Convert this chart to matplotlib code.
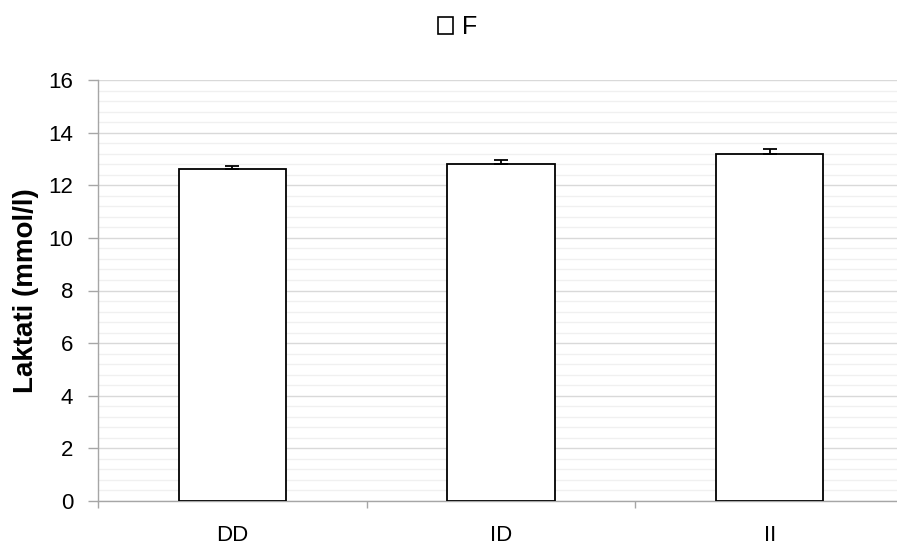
import matplotlib.pyplot as plt
from matplotlib.patches import Patch
from matplotlib.ticker import MultipleLocator, FixedLocator, NullFormatter

plt.rcParams['font.family'] = ['Liberation Sans', 'DejaVu Sans']

categories = ["DD", "ID", "II"]
values = [12.6, 12.8, 13.2]
errors = [0.15, 0.15, 0.17]
series_name = "F"

fig = plt.figure(figsize=(8.97, 5.45), dpi=100)
ax = fig.add_axes([98 / 897, 44 / 545, 806 / 897, 421 / 545])

x = list(range(len(categories)))
ax.bar(x, values, width=0.4, color="white", edgecolor="black", linewidth=1.3, zorder=3)
ax.errorbar(x, values, yerr=[[0] * len(errors), errors], fmt="none", ecolor="black",
            elinewidth=1.3, capsize=5, capthick=1.3, zorder=4)

ax.set_xlim(-0.5, len(categories) - 0.5)
ax.set_ylim(0, 16)
ax.yaxis.set_major_locator(MultipleLocator(2))
ax.yaxis.set_minor_locator(MultipleLocator(0.4))
ax.grid(which="major", axis="y", color="#d9d9d9", linewidth=1.0, zorder=0)
ax.grid(which="minor", axis="y", color="#f0f0f0", linewidth=1.0, zorder=0)
ax.tick_params(axis="y", which="minor", length=0)

# category labels centred, tick marks at the category boundaries
ax.set_xticks(x)
ax.set_xticklabels(categories)
ax.xaxis.set_minor_locator(FixedLocator([-0.5, 0.5, 1.5, 2.5]))
ax.xaxis.set_minor_formatter(NullFormatter())
ax.tick_params(axis="x", which="major", length=0, pad=17)
ax.tick_params(axis="x", which="minor", length=5, color="#a6a6a6", width=1)
ax.tick_params(axis="y", which="major", length=7, color="#a6a6a6", width=1, pad=11)
ax.tick_params(labelsize=16)

for s in ["top", "right"]:
    ax.spines[s].set_visible(False)
for s in ["left", "bottom"]:
    ax.spines[s].set_color("#a6a6a6")
    ax.spines[s].set_linewidth(1)

ax.set_ylabel("Laktati (mmol/l)", fontsize=20, fontweight="bold")
ax.yaxis.set_label_coords(-0.073, 0.5)

handle = Patch(facecolor="white", edgecolor="black", linewidth=1.2)
fig.legend([handle], [series_name], loc="center", bbox_to_anchor=(0.51, 0.95),
           frameon=False, fontsize=18, handlelength=0.62, handleheight=0.62,
           handletextpad=0.35)

fig.savefig("out.png", dpi=100)
plt.close(fig)
